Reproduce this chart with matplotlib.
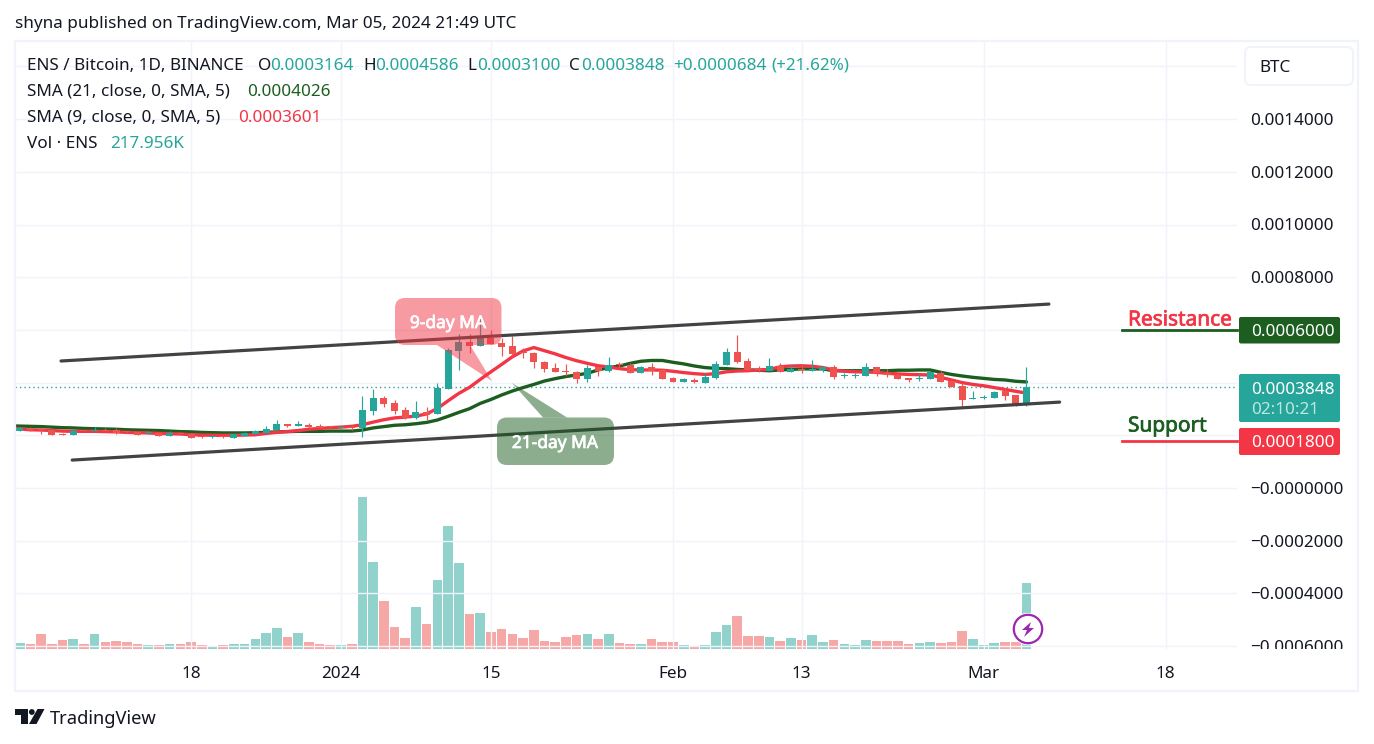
import numpy as np
import matplotlib
matplotlib.use('Agg')
import matplotlib.pyplot as plt
import matplotlib.patheffects as pe
from matplotlib.patches import FancyBboxPatch, Polygon, Circle, Rectangle
from matplotlib.transforms import Bbox

plt.rcParams['font.family'] = ['Noto Sans', 'DejaVu Sans']

# days counted from 2024-01-01, prices in units of 1e-4 BTC, volume in K ENS
days = np.arange(-30, 65)
ma_days = np.arange(-31, 65)
opens = [2.18, 2.26, 2.23, 2.19, 2.05, 2.02, 2.18, 2.16, 2.19, 2.19, 2.14, 2.11, 2.07, 2.10, 1.99, 2.09,
         2.06, 1.95, 1.92, 1.95, 1.91, 1.99, 2.05, 2.10, 2.20, 2.43, 2.37, 2.38, 2.34, 2.33, 2.29, 2.31,
         2.26, 2.93, 3.42, 3.23, 2.96, 2.66, 2.88, 2.82, 3.77, 5.21, 5.54, 5.40, 5.68, 5.52, 5.39, 5.14,
         5.12, 4.78, 4.55, 4.43, 4.41, 4.14, 4.58, 4.44, 4.71, 4.67, 4.38, 4.58, 4.48, 4.17, 4.04, 4.11,
         3.98, 4.17, 4.67, 5.16, 4.82, 4.49, 4.43, 4.63, 4.41, 4.52, 4.45, 4.48, 4.59, 4.26, 4.26, 4.25,
         4.59, 4.35, 4.29, 4.17, 4.14, 4.14, 4.35, 4.06, 3.87, 3.38, 3.43, 3.42, 3.68, 3.53, 3.164]
highs = [2.33, 2.31, 2.26, 2.21, 2.07, 2.23, 2.21, 2.31, 2.26, 2.26, 2.16, 2.12, 2.15, 2.12, 2.16, 2.10,
         2.07, 1.97, 1.97, 1.96, 2.06, 2.12, 2.20, 2.35, 2.58, 2.44, 2.54, 2.47, 2.43, 2.35, 2.37, 2.39,
         3.49, 3.76, 3.49, 3.34, 3.07, 3.30, 3.07, 3.97, 5.33, 5.84, 5.84, 6.44, 6.00, 5.68, 5.77, 5.30,
         5.15, 4.82, 4.74, 4.71, 4.45, 4.66, 4.60, 4.97, 4.79, 4.74, 4.62, 4.76, 4.50, 4.21, 4.19, 4.19,
         4.38, 4.82, 5.31, 5.81, 4.93, 4.63, 4.93, 4.76, 4.66, 4.71, 4.86, 4.63, 4.67, 4.38, 4.38, 4.76,
         4.60, 4.50, 4.35, 4.18, 4.31, 4.43, 4.44, 4.10, 3.97, 3.68, 3.52, 3.69, 3.78, 3.53, 4.586]
lows = [2.18, 2.16, 2.06, 2.01, 2.00, 2.02, 2.15, 2.16, 2.15, 2.05, 2.10, 2.01, 2.05, 1.98, 1.99, 2.05,
        1.91, 1.91, 1.90, 1.90, 1.91, 1.99, 2.05, 2.10, 2.20, 2.30, 2.37, 2.28, 2.26, 2.28, 2.28, 2.20,
        1.95, 2.78, 3.09, 2.81, 2.62, 2.63, 2.58, 2.82, 3.77, 4.49, 5.14, 5.40, 5.46, 5.01, 5.01, 4.93,
        4.55, 4.40, 4.41, 4.26, 4.00, 4.02, 4.26, 4.40, 4.54, 4.38, 4.38, 4.29, 4.14, 4.04, 4.04, 4.00,
        3.98, 4.14, 4.67, 4.73, 4.48, 4.40, 4.43, 4.41, 4.41, 4.35, 4.45, 4.41, 4.14, 4.17, 4.17, 4.25,
        4.26, 4.21, 4.14, 4.02, 4.06, 4.14, 4.02, 3.82, 3.11, 3.38, 3.38, 3.42, 3.34, 3.11, 3.100]
closes = [2.29, 2.19, 2.20, 2.02, 2.02, 2.16, 2.15, 2.19, 2.16, 2.10, 2.11, 2.02, 2.10, 1.99, 2.07, 2.06,
          1.91, 1.92, 1.95, 1.92, 2.05, 2.09, 2.15, 2.24, 2.43, 2.37, 2.39, 2.31, 2.26, 2.30, 2.31, 2.29,
          2.96, 3.42, 3.20, 2.92, 2.64, 2.88, 2.78, 3.81, 5.25, 5.54, 5.40, 5.69, 5.46, 5.36, 5.09, 5.11,
          4.79, 4.52, 4.41, 4.40, 4.14, 4.55, 4.44, 4.67, 4.68, 4.38, 4.60, 4.45, 4.14, 4.04, 4.14, 4.04,
          4.21, 4.71, 5.16, 4.78, 4.48, 4.47, 4.63, 4.41, 4.53, 4.49, 4.53, 4.59, 4.21, 4.29, 4.29, 4.59,
          4.38, 4.29, 4.14, 4.11, 4.16, 4.41, 4.02, 3.82, 3.34, 3.40, 3.45, 3.64, 3.49, 3.11, 3.848]
sma21 = [2.36, 2.35, 2.34, 2.33, 2.31, 2.29, 2.28, 2.26, 2.25, 2.24, 2.23, 2.21, 2.20, 2.19, 2.18, 2.16, 2.14,
         2.13, 2.11, 2.10, 2.09, 2.09, 2.09, 2.10, 2.11, 2.13, 2.14, 2.15, 2.15, 2.15, 2.16, 2.16, 2.16,
         2.20, 2.28, 2.33, 2.38, 2.40, 2.44, 2.49, 2.58, 2.72, 2.87, 3.01, 3.21, 3.36, 3.53, 3.68, 3.81,
         3.93, 4.06, 4.15, 4.23, 4.29, 4.35, 4.48, 4.57, 4.63, 4.73, 4.81, 4.84, 4.84, 4.77, 4.71, 4.63,
         4.57, 4.54, 4.53, 4.50, 4.48, 4.47, 4.45, 4.48, 4.50, 4.52, 4.52, 4.52, 4.45, 4.45, 4.45, 4.45,
         4.45, 4.45, 4.47, 4.47, 4.48, 4.48, 4.39, 4.31, 4.25, 4.20, 4.16, 4.12, 4.10, 4.05, 4.026]
sma9 = [2.26, 2.24, 2.21, 2.20, 2.18, 2.16, 2.15, 2.15, 2.15, 2.14, 2.13, 2.11, 2.10, 2.09, 2.07, 2.06, 2.05,
        2.02, 2.01, 2.00, 2.00, 2.00, 2.01, 2.02, 2.07, 2.11, 2.14, 2.18, 2.23, 2.26, 2.29, 2.31, 2.34,
        2.40, 2.50, 2.59, 2.66, 2.69, 2.73, 2.81, 3.02, 3.31, 3.59, 3.82, 4.12, 4.41, 4.69, 4.98, 5.20,
        5.33, 5.21, 5.09, 4.95, 4.83, 4.73, 4.64, 4.59, 4.53, 4.49, 4.48, 4.48, 4.47, 4.43, 4.38, 4.34,
        4.31, 4.34, 4.41, 4.44, 4.45, 4.48, 4.50, 4.60, 4.63, 4.64, 4.62, 4.57, 4.48, 4.43, 4.41, 4.40,
        4.39, 4.35, 4.33, 4.31, 4.30, 4.29, 4.20, 4.10, 4.00, 3.93, 3.88, 3.81, 3.74, 3.67, 3.601]
volume = [19.8, 16.5, 49.5, 16.5, 29.7, 33, 16.5, 49.5, 23.1, 26.4, 23.1, 16.5, 13.2, 13.2, 16.5, 16.5,
          23.1, 13.2, 9.9, 13.2, 16.5, 16.5, 33, 52.8, 69.3, 39.6, 52.8, 23.1, 16.5, 13.2, 13.2, 16.5,
          501.6, 287.1, 158.4, 72.6, 36.3, 138.6, 82.5, 227.7, 405.9, 283.8, 115.5, 118.8, 56.1, 66, 49.5, 36.3,
          62.7, 26.4, 23.1, 39.6, 46.2, 49.5, 33, 49.5, 19.8, 16.5, 16.5, 33, 23.1, 23.1, 13.2, 9.9,
          13.2, 56.1, 79.2, 108.9, 42.9, 42.9, 39.6, 26.4, 36.3, 29.7, 46.2, 23.1, 29.7, 16.5, 13.2, 29.7,
          26.4, 26.4, 26.4, 16.5, 19.8, 23.1, 19.8, 23.1, 59.4, 33, 13.2, 19.8, 23.1, 23.1, 217.956]

# the 6, 4 and 2 scale labels sit under the tags, so they stay blank
price_ticks = [16, 14, 12, 10, 8, 6, 4, 2, 0, -2, -4, -6]
price_labels = ['', '0.0014000', '0.0012000', '0.0010000', '0.0008000', '', '', '',
                '\u22120.0000000', '\u22120.0002000', '\u22120.0004000', '\u22120.0006000']
date_ticks = [-14, 0, 14, 31, 43, 60, 77]
date_labels = ['18', '2024', '15', 'Feb', '13', 'Mar', '18']
last_close = 3.848
resistance = 6.0
support = 1.8
upper_trend = ([-26.14, 66.1], [4.82, 6.98])
lower_trend = ([-25.1, 67.1], [1.06, 3.26])

UP = '#26a69a'
DOWN = '#ef5350'
RED = '#f23645'
GREEN = '#1b5e20'
INK = '#131722'
GRID = '#f0f3fa'
FS = 12.3

W, H = 1374, 744
L, R, T, B = 15, 1237, 41, 649
PX_PER_DAY = 10.71
PX_PER_UNIT = 26.35
ZERO_Y = 488
DAY0_X = 341

fig = plt.figure(figsize=(W / 100, H / 100), dpi=100)
fig.patch.set_facecolor('white')

ax_pos = [L / W, 1 - B / H, (R - L) / W, (B - T) / H]
ax_vol = fig.add_axes(ax_pos)
ax = fig.add_axes(ax_pos)
ax.patch.set_visible(False)

xlim = ((L - DAY0_X) / PX_PER_DAY, (R - DAY0_X) / PX_PER_DAY)
ax.set_xlim(*xlim)
ax.set_ylim((ZERO_Y - B) / PX_PER_UNIT, (ZERO_Y - T) / PX_PER_UNIT)
ax_vol.set_xlim(*xlim)
ax_vol.set_ylim(0, (B - T) * 3.3)
ax_vol.axis('off')

is_up = np.array(closes) >= np.array(opens)
ax_vol.bar(days, volume, width=0.9, color=np.where(is_up, UP, DOWN), alpha=0.5, linewidth=0)

ax.set_yticks(price_ticks, price_labels)
ax.set_xticks(date_ticks, date_labels)
ax.yaxis.tick_right()
ax.grid(True, color=GRID, linewidth=1.0)
ax.set_axisbelow(True)
ax.tick_params(axis='both', length=0, labelcolor=INK, labelsize=FS)
ax.tick_params(axis='y', pad=9.5)
ax.tick_params(axis='x', pad=12.5)
for s in ax.spines.values():
    s.set_visible(False)
ax.get_xticklabels()[1].set_fontweight('bold')
# bottom scale label is cut off by the pane in the original
for lab in ax.get_yticklabels():
    lab.set_clip_on(True)
    lab.set_clip_box(Bbox([[0, H - B], [W, H]]))

ax.axhline(last_close, color=UP, linewidth=1.0, linestyle=(0, (1, 2.2)), zorder=2)

ax.plot(ma_days, sma21, color=GREEN, linewidth=2.4, zorder=3, solid_capstyle='round')
ax.plot(ma_days, sma9, color=RED, linewidth=2.4, zorder=3.1, solid_capstyle='round')

colors = np.where(is_up, UP, DOWN)
ax.vlines(days, lows, highs, colors=colors, linewidth=0.85, zorder=4)
body_bottom = np.minimum(opens, closes)
body_height = np.maximum(np.abs(np.array(closes) - np.array(opens)), 0.04)
ax.bar(days, body_height, bottom=body_bottom, width=0.65, color=colors, linewidth=0, zorder=4.1)

ax.plot(*upper_trend, color='#434343', linewidth=2.3, zorder=5, solid_capstyle='round')
ax.plot(*lower_trend, color='#434343', linewidth=2.3, zorder=5, solid_capstyle='round')
# resistance / support stubs run from the chart into the scale tags
ax.plot([(1122 - DAY0_X) / PX_PER_DAY, xlim[1]], [resistance, resistance], color=GREEN, linewidth=2.0, zorder=5,
        clip_on=False)
ax.plot([(1122 - DAY0_X) / PX_PER_DAY, xlim[1]], [support, support], color=RED, linewidth=2.0, zorder=5,
        clip_on=False)

# overlay in pixel coordinates for tags, callouts, legend text
ov = fig.add_axes([0, 0, 1, 1], zorder=10)
ov.set_xlim(0, W)
ov.set_ylim(H, 0)
ov.axis('off')
ov.patch.set_visible(False)


def txt(x, y, s, color=INK, size=FS, heavy=False, **kw):
    t = ov.text(x, y, s, color=color, fontsize=size, va='center', ha=kw.pop('ha', 'left'), **kw)
    if heavy:
        t.set_path_effects([pe.withStroke(linewidth=0.5, foreground=color)])


def rbox(x0, y0, x1, y1, r, **kw):
    ov.add_patch(FancyBboxPatch((x0, y0), x1 - x0, y1 - y0, boxstyle=f'round,pad=0,rounding_size={r}', **kw))


# outer frame
ov.add_patch(Rectangle((15, 41), 1343, 650, fill=False, edgecolor=GRID, linewidth=1.6))

# header and legend
txt(15, 24, 'shyna published on TradingView.com, Mar 05, 2024 21:49 UTC')
txt(27, 66, 'ENS / Bitcoin, 1D, BINANCE')
for x, s, c in [(258, 'O', INK), (270, '0.0003164', UP), (363, 'H', INK), (375, '0.0004586', UP),
                (467, 'L', INK), (477, '0.0003100', UP), (569, 'C', INK), (581, '0.0003848', UP),
                (673, '+0.0000684', UP), (771, '(+21.62%)', UP)]:
    txt(x, 66, s, c)
txt(27, 92, 'SMA (21, close, 0, SMA, 5)')
txt(247, 92, '0.0004026', GREEN)
txt(27, 118, 'SMA (9, close, 0, SMA, 5)')
txt(238, 118, '0.0003601', RED)
txt(27, 144, 'Vol \u00b7 ENS')
txt(110, 144, '217.956K', UP)

# currency button
rbox(1245, 47, 1353, 85, 6, facecolor='white', edgecolor=GRID, linewidth=1.4)
txt(1259, 68, 'BTC')

# scale tags
rbox(1239, 317, 1340, 343.5, 2, facecolor=GREEN, edgecolor='none')
txt(1251, 332, '0.0006000', 'white')
rbox(1239, 374, 1340, 422, 2, facecolor=UP, edgecolor='none')
txt(1251, 390, '0.0003848', 'white')
txt(1251, 410, '02:10:21', '#bfe5e1')
rbox(1239, 428, 1340, 455, 2, facecolor=RED, edgecolor='none')
txt(1251, 443, '0.0001800', 'white')

txt(1128, 320, 'Resistance', RED, 15, heavy=True)
txt(1128, 426, 'Support', GREEN, 15, heavy=True)

# moving average callouts
ov.add_patch(Polygon([(437, 345), (492, 381), (470, 345)], facecolor=RED, alpha=0.5, edgecolor='none'))
rbox(395, 298, 501.5, 345, 10, facecolor=RED, alpha=0.5, edgecolor='none')
txt(448, 323, '9-day MA', 'white', 12.5, heavy=True, ha='center')
ov.add_patch(Polygon([(512, 383), (543, 417.5), (567, 417.5)], facecolor=GREEN, alpha=0.5, edgecolor='none'))
rbox(497, 417.5, 614, 465, 10, facecolor=GREEN, alpha=0.5, edgecolor='none')
txt(555, 443, '21-day MA', 'white', 12.5, heavy=True, ha='center')

# lightning badge
ov.add_patch(Circle((1028, 629), 15.5, facecolor='white', edgecolor='white', linewidth=1))
ov.add_patch(Circle((1028, 629), 14.2, facecolor='white', edgecolor='#9c27b0', linewidth=1.6))
ov.add_patch(Polygon([(1031, 622), (1022, 630), (1027, 630), (1024, 637), (1034, 628), (1029, 628)],
                     facecolor='#9c27b0', edgecolor='none'))

# TradingView logo
ov.add_patch(Polygon([(15, 709), (28, 709), (28, 724), (21, 724), (21, 715), (15, 715)], facecolor=INK,
                     edgecolor='none'))
ov.add_patch(Circle((31.8, 712), 2.9, facecolor=INK, edgecolor='none'))
ov.add_patch(Polygon([(37.5, 709), (44.5, 709), (36.5, 724), (29, 724)], facecolor=INK, edgecolor='none'))
txt(50, 719, 'TradingView', INK, 13.2)

fig.savefig('out.png', dpi=100)
